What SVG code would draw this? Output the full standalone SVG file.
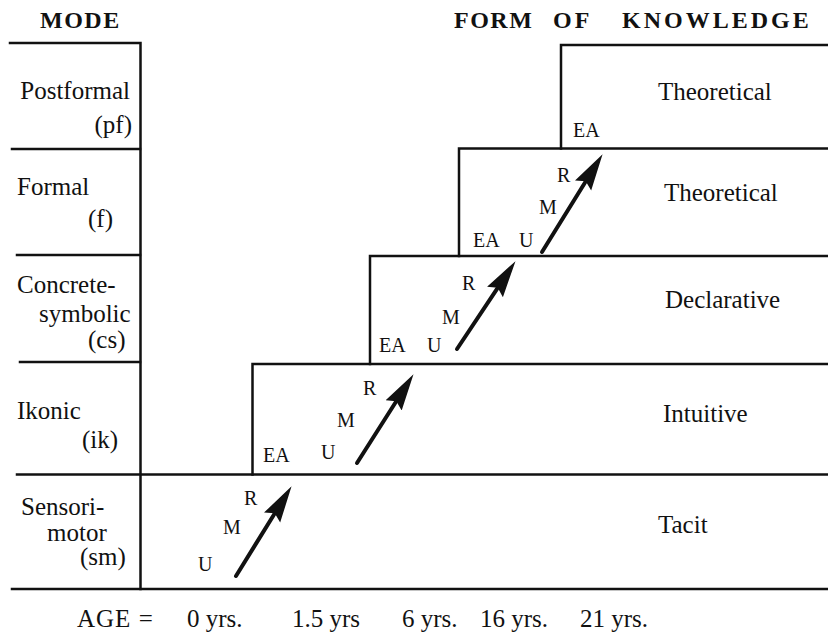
<svg xmlns="http://www.w3.org/2000/svg" width="828" height="634" viewBox="0 0 828 634">
<style>
  text { font-family: "Liberation Serif", "Times New Roman", serif; fill: #111; }
  .hd { font-size: 24px; font-weight: bold; letter-spacing: 1.5px; }
  .wide { letter-spacing: 3px; }
  .lb { font-size: 25px; }
  .sm { font-size: 20px; }
  .ln { stroke: #111; stroke-width: 2.5; fill: none; stroke-linecap: square; }
  .ar { stroke: #111; stroke-width: 4; fill: none; stroke-linecap: round; }
</style>
<defs>
  <marker id="head" markerUnits="userSpaceOnUse" markerWidth="44" markerHeight="24" viewBox="0 -12 44 24" refX="4" refY="0" orient="auto">
    <path d="M37,0 L0,-9.5 L5,0 L0,9.5 Z" fill="#111"/>
  </marker>
</defs>
<rect width="828" height="634" fill="#fff"/>

<g id="headers">
  <text class="hd" x="40" y="28">MODE</text>
  <text class="hd" x="454" y="28">FORM</text>
  <text class="hd wide" x="553" y="28">OF</text>
  <text class="hd wide" x="622" y="28">KNOWLEDGE</text>
</g>

<g id="grid">
  <path class="ln" d="M10,43 H140.5 V589"/>
  <path class="ln" d="M12,149 H140"/>
  <path class="ln" d="M17,255 H140"/>
  <path class="ln" d="M20,362 H140"/>
  <path class="ln" d="M17,474.5 H828"/>
  <path class="ln" d="M12,589 H828"/>
  <path class="ln" d="M828,45 H561 V148.5"/>
  <path class="ln" d="M828,148.5 H459 V256"/>
  <path class="ln" d="M828,256 H370 V364"/>
  <path class="ln" d="M828,364 H252.5 V474.5"/>
</g>

<g id="mode-pf">
  <text class="lb" x="130" y="99" text-anchor="end">Postformal</text>
  <text class="lb" x="132" y="133" text-anchor="end">(pf)</text>
</g>
<g id="mode-f">
  <text class="lb" x="17" y="195">Formal</text>
  <text class="lb" x="88" y="227">(f)</text>
</g>
<g id="mode-cs">
  <text class="lb" x="17" y="293">Concrete-</text>
  <text class="lb" x="39" y="322">symbolic</text>
  <text class="lb" x="88" y="348">(cs)</text>
</g>
<g id="mode-ik">
  <text class="lb" x="17" y="419">Ikonic</text>
  <text class="lb" x="82" y="448">(ik)</text>
</g>
<g id="mode-sm">
  <text class="lb" x="21" y="515">Sensori-</text>
  <text class="lb" x="47" y="541">motor</text>
  <text class="lb" x="80" y="565">(sm)</text>
</g>

<g id="knowledge-pf">
  <text class="lb" x="658" y="100">Theoretical</text>
  <text class="sm" x="573" y="137">EA</text>
</g>
<g id="knowledge-f">
  <text class="lb" x="664" y="201">Theoretical</text>
  <text class="sm" x="473" y="247">EA</text>
  <text class="sm" x="519" y="247">U</text>
  <text class="sm" x="539" y="214">M</text>
  <text class="sm" x="557" y="182">R</text>
</g>
<g id="knowledge-cs">
  <text class="lb" x="665" y="308">Declarative</text>
  <text class="sm" x="379" y="352">EA</text>
  <text class="sm" x="427" y="352">U</text>
  <text class="sm" x="442" y="324">M</text>
  <text class="sm" x="462" y="290">R</text>
</g>
<g id="knowledge-ik">
  <text class="lb" x="663" y="422">Intuitive</text>
  <text class="sm" x="263" y="462">EA</text>
  <text class="sm" x="321" y="459">U</text>
  <text class="sm" x="337" y="427">M</text>
  <text class="sm" x="363" y="395">R</text>
</g>
<g id="knowledge-sm">
  <text class="lb" x="658" y="533">Tacit</text>
  <text class="sm" x="198" y="571">U</text>
  <text class="sm" x="223" y="534">M</text>
  <text class="sm" x="244" y="505">R</text>
</g>

<g id="connectors">
  <line class="ar" x1="236" y1="576" x2="274.2" y2="514.2" marker-end="url(#head)"/>
  <line class="ar" x1="357" y1="463" x2="395.8" y2="402" marker-end="url(#head)"/>
  <line class="ar" x1="457" y1="349" x2="497.2" y2="288.6" marker-end="url(#head)"/>
  <line class="ar" x1="542" y1="252" x2="585.2" y2="182.2" marker-end="url(#head)"/>
</g>

<g id="age-axis">
  <text class="lb" x="77" y="627" letter-spacing="1">AGE =</text>
  <text class="lb" x="187" y="627">0 yrs.</text>
  <text class="lb" x="292" y="627">1.5 yrs</text>
  <text class="lb" x="402" y="627">6 yrs.</text>
  <text class="lb" x="480" y="627">16 yrs.</text>
  <text class="lb" x="580" y="627">21 yrs.</text>
</g>
</svg>
